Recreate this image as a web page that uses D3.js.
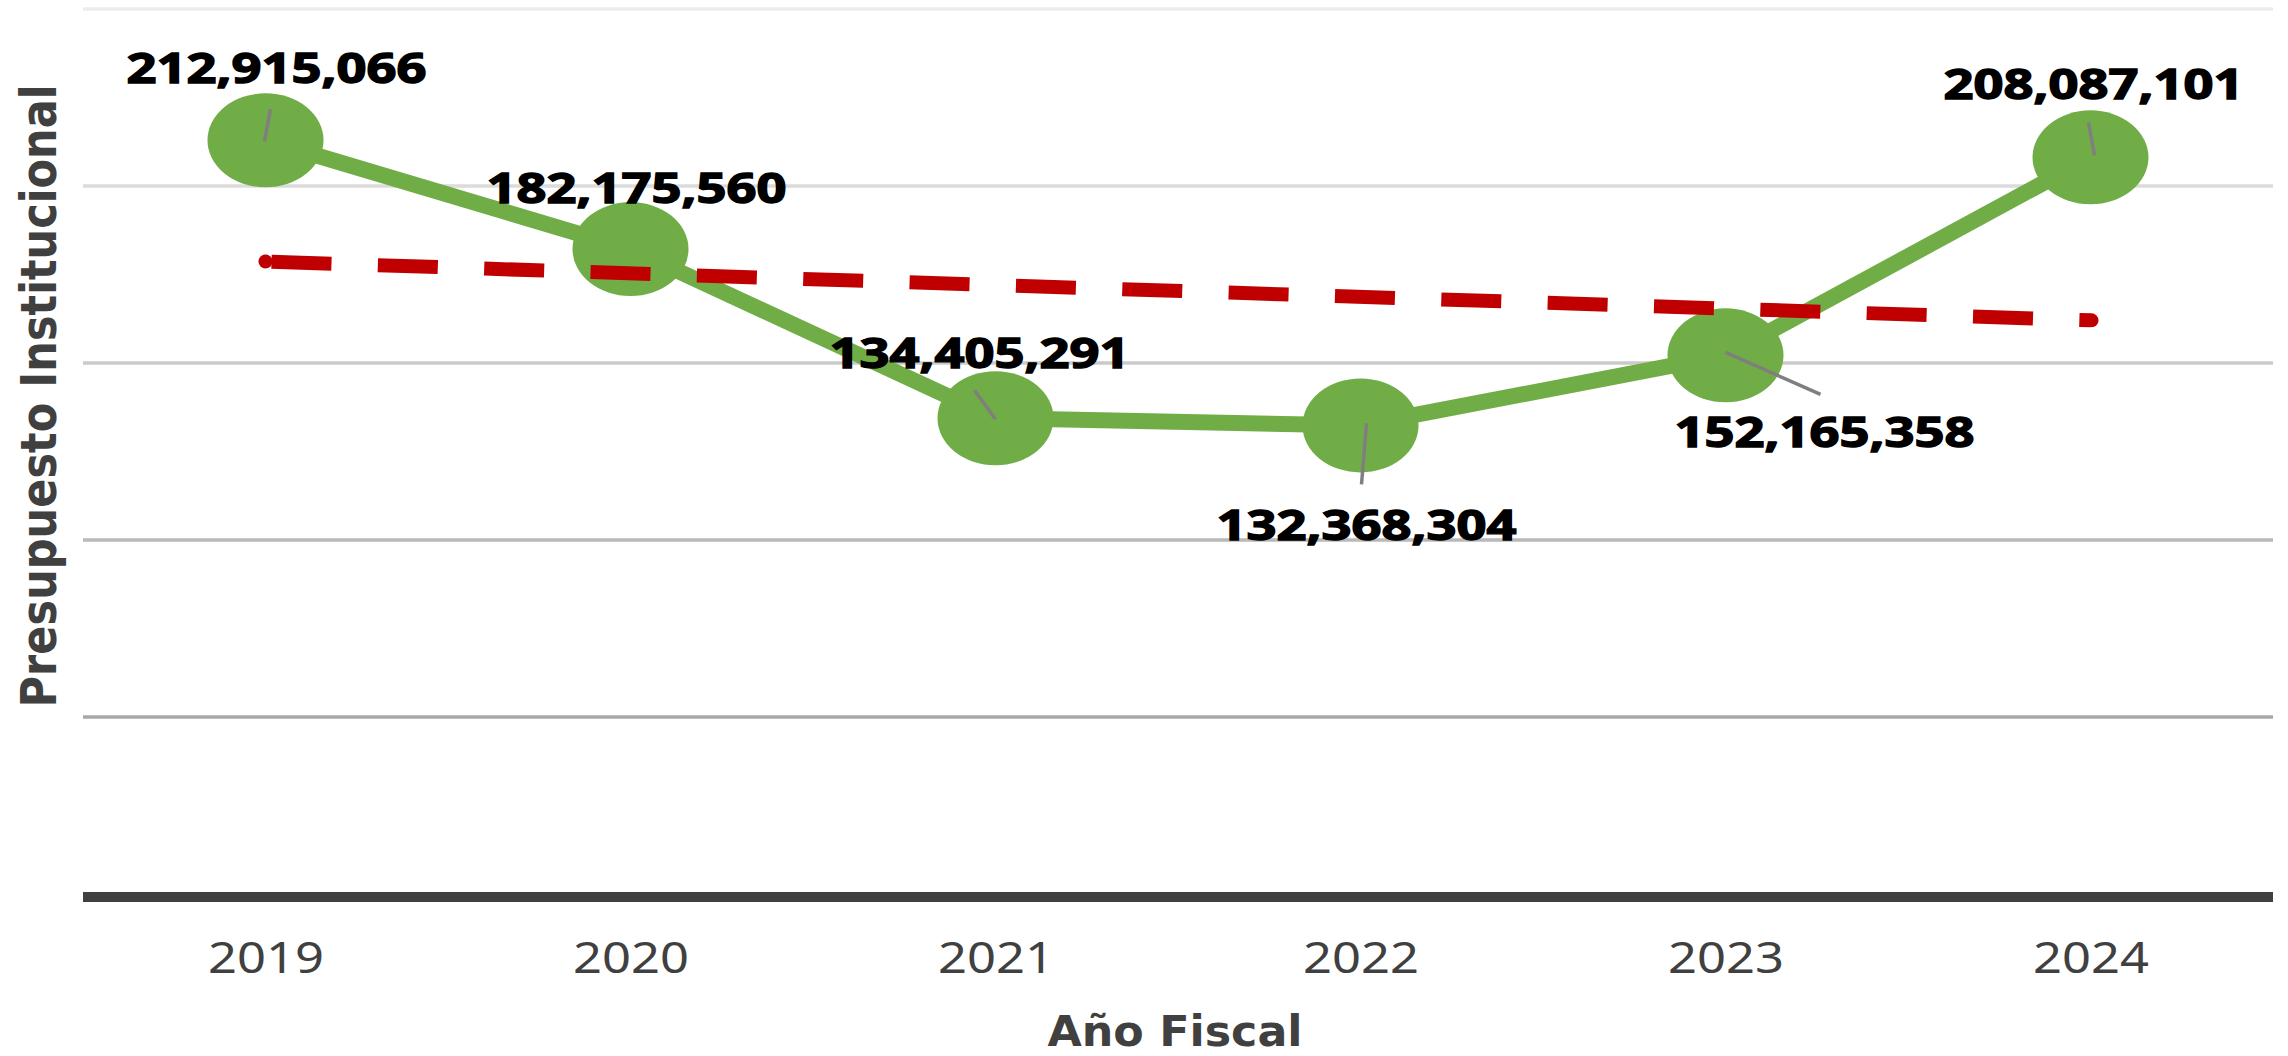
<!DOCTYPE html>
<html>
<head>
<meta charset="utf-8">
<script src="https://cdn.jsdelivr.net/npm/d3@7"></script>
<style>
  body { margin: 0; background: #fff; }
</style>
</head>
<body>
<div id="chart"></div>
<script>
// data
var years = ['2019', '2020', '2021', '2022', '2023', '2024'];
var budget = [212915066, 182175560, 134405291, 132368304, 152165358, 208087101];
var gridTicks = [50000000, 100000000, 150000000, 200000000, 250000000];
var xTitle = 'Año Fiscal';
var yTitle = 'Presupuesto Institucional';

var W = 2288, H = 1056;
var plotLeft = 83, plotRight = 2273, plotTop = 9, plotBottom = 894;

var svg = d3.select('#chart')
  .append('svg')
  .attr('width', W)
  .attr('height', H);

var x = d3.scalePoint().domain(years).range([plotLeft, plotRight]).padding(0.5);
var y = d3.scaleLinear().domain([0, 250000000]).range([plotBottom, plotTop]);

// gridlines, lighter toward the top
var gridColor = d3.scaleLinear().domain([50000000, 250000000]).range(['#a8a8a8', '#ececec']);
svg.append('g')
  .selectAll('line')
  .data(gridTicks)
  .enter().append('line')
  .attr('x1', plotLeft).attr('x2', plotRight)
  .attr('y1', function(d) { return y(d); })
  .attr('y2', function(d) { return y(d); })
  .attr('stroke', function(d) { return gridColor(d); })
  .attr('stroke-width', 3.5);

// x axis base line
svg.append('line')
  .attr('x1', plotLeft).attr('x2', plotRight)
  .attr('y1', y(0) + 3).attr('y2', y(0) + 3)
  .attr('stroke', '#404040')
  .attr('stroke-width', 10);

// year labels
var xAxis = svg.append('g')
  .attr('transform', 'translate(0,973)')
  .call(d3.axisBottom(x).tickSize(0).tickPadding(0));
xAxis.select('.domain').remove();
xAxis.selectAll('text')
  .attr('y', 0).attr('dy', 0)
  .attr('fill', '#404040')
  .attr('font-family', 'Noto Sans')
  .attr('font-size', 43)
  .attr('textLength', 116)
  .attr('lengthAdjust', 'spacingAndGlyphs');

// axis titles
svg.append('text')
  .attr('x', 1175).attr('y', 1046)
  .attr('text-anchor', 'middle')
  .attr('font-family', 'DejaVu Sans')
  .attr('font-weight', 'bold')
  .attr('font-size', 43)
  .attr('fill', '#404040')
  .attr('textLength', 255)
  .attr('lengthAdjust', 'spacingAndGlyphs')
  .text(xTitle);

svg.append('text')
  .attr('transform', 'translate(56,396) rotate(-90)')
  .attr('text-anchor', 'middle')
  .attr('font-family', 'DejaVu Sans')
  .attr('font-weight', 'bold')
  .attr('font-size', 49)
  .attr('fill', '#404040')
  .attr('textLength', 623)
  .attr('lengthAdjust', 'spacingAndGlyphs')
  .text(yTitle);

// budget line
var line = d3.line()
  .x(function(d, i) { return x(years[i]); })
  .y(function(d) { return y(d); });

svg.append('path')
  .datum(budget)
  .attr('d', line)
  .attr('fill', 'none')
  .attr('stroke', '#70AD47')
  .attr('stroke-width', 16)
  .attr('stroke-linejoin', 'round');

svg.append('g')
  .selectAll('ellipse')
  .data(budget)
  .enter().append('ellipse')
  .attr('cx', function(d, i) { return x(years[i]); })
  .attr('cy', function(d) { return y(d); })
  .attr('rx', 58)
  .attr('ry', 47)
  .attr('fill', '#70AD47');

// linear trendline (least squares over the six years)
var idx = d3.range(budget.length);
var mx = d3.mean(idx), my = d3.mean(budget);
var slope = d3.sum(idx, function(i) { return (i - mx) * (budget[i] - my); }) /
            d3.sum(idx, function(i) { return (i - mx) * (i - mx); });
var trendEnds = [my + slope * (0 - mx), my + slope * (budget.length - 1 - mx)];
var trendX = [x(years[0]), x(years[years.length - 1])];

svg.append('line')
  .attr('x1', trendX[0]).attr('y1', y(trendEnds[0]))
  .attr('x2', trendX[1]).attr('y2', y(trendEnds[1]))
  .attr('stroke', '#C00000')
  .attr('stroke-width', 14)
  .attr('stroke-dasharray', '60,46.4')
  .attr('stroke-dashoffset', -6);

svg.append('g')
  .selectAll('circle')
  .data(trendEnds)
  .enter().append('circle')
  .attr('cx', function(d, i) { return trendX[i] + (i ? 1 : 0); })
  .attr('cy', function(d) { return y(d); })
  .attr('r', 7)
  .attr('fill', '#C00000');

// label placement relative to each point: text offset and leader line
var place = [
  { dx: 11,  dy: -57, lead: [-1, 1, 5, -31] },
  { dx: 6,   dy: -46, lead: null },
  { dx: -16, dy: -50, lead: [0, 1, -21, -28] },
  { dx: 6,   dy: 115, lead: [6, -2, 1, 59] },
  { dx: 99,  dy: 92,  lead: [0, -3, 95, 39] },
  { dx: 3,   dy: -58, lead: [-2, -35, 4, -2] }
];

var leaders = idx.filter(function(i) { return place[i].lead; });
svg.append('g')
  .selectAll('line')
  .data(leaders)
  .enter().append('line')
  .attr('x1', function(i) { return x(years[i]) + place[i].lead[0]; })
  .attr('y1', function(i) { return y(budget[i]) + place[i].lead[1]; })
  .attr('x2', function(i) { return x(years[i]) + place[i].lead[2]; })
  .attr('y2', function(i) { return y(budget[i]) + place[i].lead[3]; })
  .attr('stroke', '#7F7F7F')
  .attr('stroke-width', 3.5);

var fmt = d3.format(',');
svg.append('g')
  .selectAll('text')
  .data(budget)
  .enter().append('text')
  .attr('x', function(d, i) { return x(years[i]) + place[i].dx; })
  .attr('y', function(d, i) { return y(d) + place[i].dy; })
  .attr('text-anchor', 'middle')
  .attr('font-family', 'Noto Sans')
  .attr('font-weight', 'bold')
  .attr('font-size', 41)
  .attr('fill', '#000')
  .attr('stroke', '#000')
  .attr('stroke-width', 1.4)
  .attr('textLength', 300)
  .attr('lengthAdjust', 'spacingAndGlyphs')
  .text(function(d) { return fmt(d); });
</script>
</body>
</html>
